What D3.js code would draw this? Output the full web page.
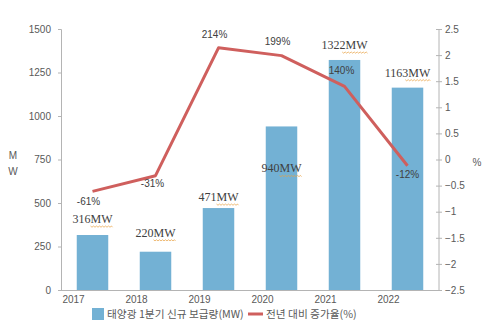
<!DOCTYPE html>
<html>
<head>
<meta charset="utf-8">
<script src="https://cdn.jsdelivr.net/npm/d3@7"></script>
<style>
  html, body { margin: 0; padding: 0; background: #fff; }
  svg { display: block; }
</style>
</head>
<body>
<svg id="chart" width="493" height="331"></svg>
<script>
// Solar installations per year (MW) and year-over-year growth rate
const years = ["2017", "2018", "2019", "2020", "2021", "2022"];
const capacityMW = [316, 220, 471, 940, 1322, 1163];
const growthRate = [-0.61, -0.31, 2.14, 1.99, 1.40, -0.12];
const growthLabels = ["-61%", "-31%", "214%", "199%", "140%", "-12%"];
const leftTicks = [0, 250, 500, 750, 1000, 1250, 1500];
const rightTicks = [2.5, 2, 1.5, 1, 0.5, 0, -0.5, -1, -1.5, -2, -2.5];
const legendLabels = ["태양광 1분기 신규 보급량(MW)", "전년 대비 증가율(%)"];

// label placement offsets (px) relative to each mark
const mwLabelDy = [-12, -15, -7, 46, -11, -11];
const pctLabelDx = [-4, -3, -4, -4, -3, 0];
const pctLabelDy = [14, 11, -10, -11, -12, 12];

const svg = d3.select("#chart");
const plot = { left: 61, right: 439, top: 29, bottom: 290 };

const x = d3.scaleBand().domain(years).range([plot.left, plot.right]).paddingInner(0.5).paddingOuter(0.25);
const yL = d3.scaleLinear().domain([0, 1500]).range([plot.bottom, plot.top]);
const yR = d3.scaleLinear().domain([-2.5, 2.5]).range([plot.bottom, plot.top]);

const axisColor = "#b4b4b4";
const textColor = "#595959";
const barColor = "#73b1d4";
const lineColor = "#cf5f5d";

// left axis
const gL = svg.append("g").attr("transform", `translate(${plot.left},0)`)
  .call(d3.axisLeft(yL).tickValues(leftTicks).tickSize(3).tickPadding(7).tickFormat(d3.format("d")));
gL.select(".domain").attr("stroke", axisColor);
gL.selectAll(".tick line").attr("stroke", axisColor);
gL.selectAll(".tick text").attr("fill", textColor).style("font", "10px 'Liberation Sans', Arial, sans-serif");

// right axis
const gR = svg.append("g").attr("transform", `translate(${plot.right},0)`)
  .call(d3.axisRight(yR).tickValues(rightTicks).tickSize(3).tickPadding(3).tickFormat(d => d3.format("")(d)));
gR.selectAll(".tick line").attr("stroke", axisColor).attr("x1", -3).attr("x2", 3);
gR.select(".domain").attr("stroke", axisColor).attr("d", `M0,${plot.top}V${plot.bottom}`);
gR.selectAll(".tick text").attr("fill", textColor).style("font", "10px 'Liberation Sans', Arial, sans-serif");

// bottom baseline
svg.append("line")
  .attr("x1", plot.left).attr("x2", plot.right)
  .attr("y1", plot.bottom + 0.5).attr("y2", plot.bottom + 0.5)
  .attr("stroke", axisColor);

// year labels
svg.append("g").selectAll("text").data(years).join("text")
  .attr("x", d => x(d) + x.bandwidth() / 2 - 19)
  .attr("y", plot.bottom + 13)
  .attr("text-anchor", "middle")
  .attr("fill", textColor)
  .style("font", "10px 'Liberation Sans', Arial, sans-serif")
  .text(d => d);

// bars
svg.append("g").selectAll("rect").data(capacityMW).join("rect")
  .attr("x", (d, i) => x(years[i]))
  .attr("y", d => yL(d))
  .attr("width", x.bandwidth())
  .attr("height", d => yL(0) - yL(d))
  .attr("fill", barColor);

// growth line
const line = d3.line()
  .x((d, i) => x(years[i]) + x.bandwidth() / 2)
  .y(d => yR(d));
svg.append("path")
  .datum(growthRate)
  .attr("d", line)
  .attr("fill", "none")
  .attr("stroke", lineColor)
  .attr("stroke-width", 3)
  .attr("stroke-linejoin", "round");

// capacity labels with wavy underline
const mwG = svg.append("g").selectAll("g").data(capacityMW).join("g")
  .attr("transform", (d, i) => `translate(${x(years[i]) + x.bandwidth() / 2},${yL(d) + mwLabelDy[i]})`);
mwG.append("text")
  .attr("text-anchor", "middle")
  .attr("fill", "#404040")
  .style("font", "12px 'Liberation Serif', 'DejaVu Serif', serif")
  .text(d => d + "MW");
mwG.each(function (d) {
  const g = d3.select(this);
  const w = g.select("text").node().getComputedTextLength();
  const startX = -w / 2 + w * 0.45;
  const endX = w / 2;
  let p = `M${startX},3`;
  for (let xx = startX, k = 0; xx < endX; xx += 1.5, k++) {
    p += `L${Math.min(xx + 1.5, endX)},${k % 2 ? 3 : 4.2}`;
  }
  g.append("path").attr("d", p).attr("fill", "none").attr("stroke", "#e8a040").attr("stroke-width", 0.7);
});

// growth labels
svg.append("g").selectAll("text").data(growthRate).join("text")
  .attr("x", (d, i) => x(years[i]) + x.bandwidth() / 2 + pctLabelDx[i])
  .attr("y", (d, i) => yR(d) + pctLabelDy[i])
  .attr("text-anchor", "middle")
  .attr("fill", "#404040")
  .style("font", "10px 'Liberation Sans', Arial, sans-serif")
  .text((d, i) => growthLabels[i]);

// axis titles
const titleL = svg.append("text").attr("text-anchor", "middle").attr("fill", textColor)
  .style("font", "10px 'Liberation Sans', Arial, sans-serif");
titleL.append("tspan").attr("x", 13).attr("y", 159).text("M");
titleL.append("tspan").attr("x", 13).attr("y", 175).text("W");
svg.append("text").attr("x", 477).attr("y", 166).attr("text-anchor", "middle").attr("fill", textColor)
  .style("font", "10px 'Liberation Sans', Arial, sans-serif").text("%");

// legend
const legend = svg.append("g").style("font", "10.7px 'Noto Sans CJK KR', sans-serif");
legend.append("rect").attr("x", 92).attr("y", 308).attr("width", 12).attr("height", 12).attr("fill", barColor);
legend.append("text").attr("x", 107).attr("y", 318).attr("fill", textColor).text(legendLabels[0]);
legend.append("line").attr("x1", 248).attr("x2", 263).attr("y1", 314).attr("y2", 314)
  .attr("stroke", lineColor).attr("stroke-width", 3);
legend.append("text").attr("x", 266).attr("y", 318).attr("fill", textColor).text(legendLabels[1]);
</script>
</body>
</html>
